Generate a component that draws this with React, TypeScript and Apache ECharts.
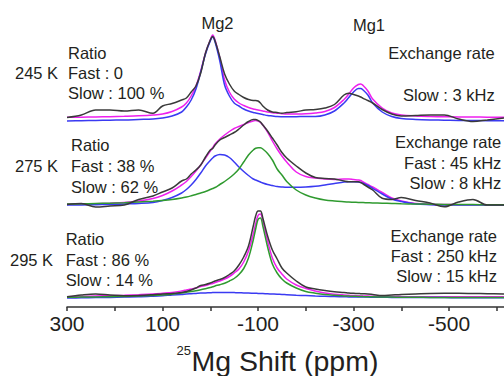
import React, { useEffect, useRef } from "react";
import * as echarts from "echarts";

// 25Mg shift grid (ppm)
const SHIFT_PPM = [
  300, 270, 240, 210, 180, 150, 120, 100, 80, 60,
  50, 40, 30, 20, 10, 0, -5, -10, -20, -30,
  -40, -50, -60, -70, -80, -90, -95, -100, -105, -110,
  -120, -130, -140, -150, -160, -180, -200, -220, -240, -260,
  -280, -290, -300, -310, -315, -320, -330, -340, -360, -380,
  -400, -430, -460, -490, -520, -550, -580, -615,
];

const TICK_VALUES = [300, 200, 100, 0, -100, -200, -300, -400, -500, -600];
const TICK_LABELS = [300, 100, -100, -300, -500];

// vertical offsets of the stacked spectra
const OFFSET_245 = 186;
const OFFSET_275 = 102;
const OFFSET_295 = 9;

// ---- 245 K ----
const EXP_245 = [
  3.5, 6, 11, 11, 10, 11, 7.7, 15, 17.5, 21,
  23, 29, 35, 48, 68, 81, 84.5, 80, 64, 47,
  37, 30, 26.5, 23.5, 21.5, 20.5, 20.5, 20, 18, 15,
  11, 9, 8.5, 7.7, 8.5, 9.3, 11, 11.5, 13, 16.5,
  26, 27.7, 26.5, 25, 24, 22.7, 20.5, 18, 11.5, 7,
  5, 5.5, 6, 6, 2, -0.5, 1, 3,
];
const FIT_245 = [
  3.7, 3.8, 4, 4.3, 4.7, 5.2, 6, 7, 9.5, 14,
  18, 25, 35, 50, 68, 81, 86, 81, 63, 41,
  29, 22, 18, 15.5, 13.5, 12, 11.5, 11, 10.5, 10,
  9, 8.3, 7.8, 7.3, 7, 7, 7.2, 8, 9.5, 13.5,
  21.5, 27, 33, 36.5, 37, 35.5, 30, 22, 13, 8,
  6, 5, 4.5, 4.2, 4, 4, 3.8, 3.8,
];
const SLOW_245 = [
  0, 0.3, 0.5, 0.8, 1, 1.5, 2, 3, 5, 9,
  14, 21, 32, 49, 67, 80, 84, 79, 60, 36,
  25, 18, 15, 12, 10, 8.5, 8, 7.5, 7, 6.5,
  5.5, 5, 4.5, 4.3, 4.2, 4.3, 4.5, 4.5, 6, 10,
  18, 23.5, 29, 32.5, 32.5, 31, 26, 18, 9, 4.5,
  2.5, 1.5, 1, 0.8, 0.5, 0.5, 0.3, 0.3,
];

// ---- 275 K ----
const EXP_275 = [
  0.5, 1.5, -2, -1, 0, 5.5, 9, 13, 17, 24,
  26, 31, 35, 40, 48, 55, 56.5, 60, 65, 67.5,
  70, 72.5, 76, 80, 83.5, 85.5, 85.5, 84.5, 83, 80,
  74, 67, 60, 52.5, 47, 39, 32, 27.5, 26.5, 26,
  24, 23.3, 23.3, 23.3, 22.5, 21, 18, 15, 6.7, 5.5,
  7.5, 4.5, 2, -1.7, 3, 5.5, 0, 0,
];
const FIT_275 = [
  0.7, 1, 1.3, 1.8, 2.5, 4, 6.5, 9.5, 14, 20,
  23.5, 28.5, 34, 40, 47, 54, 57.5, 61, 66, 70,
  73.5, 76.5, 78.5, 80.5, 82.5, 84, 84.5, 84, 82.5, 80,
  73, 64, 56, 49, 43, 33, 28.5, 27, 26, 25.5,
  26, 26, 25.5, 25, 24.5, 23, 20.5, 18, 12.5, 7,
  4, 1.5, 0.8, 0.5, 0.3, 0.2, 0.1, 0.1,
];
const SLOW_275 = [
  0, 0, 0.3, 0.5, 1, 1.5, 2.5, 4.5, 7.5, 12,
  15.5, 20, 25.5, 32, 39, 44.5, 47, 49, 50.5, 50,
  47.5, 43, 38, 33.5, 29.5, 26, 25, 24, 23, 22,
  20.5, 19.5, 18.5, 18, 17.7, 17.7, 18, 18.7, 20, 21.5,
  23, 23.3, 23.3, 23, 22.5, 21.7, 19.5, 16.7, 11, 6,
  3.5, 1, 0.3, 0, 0, 0, 0, 0,
];
const FAST_275 = [
  1, 1.2, 1.5, 1.8, 2.3, 3, 3.8, 4.5, 5.5, 7,
  8, 9.2, 10.5, 12, 13.5, 15.5, 16.5, 17.5, 20.5, 23.5,
  27, 31, 36, 43, 50, 55, 56.7, 57.3, 57.2, 56,
  51.5, 45, 36, 30, 23.5, 15, 10, 7, 5, 4,
  3.3, 3, 2.8, 2.6, 2.5, 2.4, 2.2, 2, 1.8, 1.5,
  1.2, 1, 0.8, 0.6, 0.5, 0.4, 0.3, 0.3,
];

// ---- 295 K ----
const EXP_295 = [
  1.3, 3, 4, 3, 2.2, 2.5, 3.3, 4, 4.5, 5.5,
  6.5, 8, 10, 12.5, 13.5, 15, 16, 17, 18.5, 20.5,
  23.5, 27, 33, 41, 52, 72, 82, 87, 87, 80,
  62, 48, 39, 30, 25, 17, 11, 9, 7.5, 6.3,
  5.5, 5, 4.7, 4.5, 4.3, 4.2, 4, 3.5, 2.5, 3,
  3.5, 4, 4.5, 4.7, 4.7, 4.5, 4.3, 4,
];
const FIT_295 = [
  1.3, 1.6, 2, 2.3, 2.7, 3.3, 4, 4.7, 5.5, 7,
  8, 9, 10, 11.5, 12.5, 14, 14.5, 15.5, 17, 19,
  21.5, 25, 29, 36, 47, 64, 74, 82.5, 84, 77,
  57, 40, 30, 24, 19, 13, 9.5, 7, 5, 3.8,
  3, 2.7, 2.4, 2.2, 2.1, 2, 1.9, 1.8, 1.6, 1.5,
  1.4, 1.3, 1.3, 1.3, 1.3, 1.3, 1.3, 1.3,
];
const SLOW_295 = [
  0, 0.2, 0.4, 0.6, 0.9, 1.2, 1.8, 2.3, 3, 3.6,
  4, 4.3, 4.6, 4.9, 5.1, 5.3, 5.4, 5.4, 5.5, 5.5,
  5.5, 5.4, 5.3, 5.1, 5, 4.8, 4.7, 4.6, 4.5, 4.4,
  4.2, 4, 3.8, 3.5, 3.3, 2.8, 2.4, 2, 1.7, 1.4,
  1.2, 1.1, 1, 1, 1, 0.9, 0.9, 0.8, 0.7, 0.6,
  0.5, 0.5, 0.4, 0.4, 0.3, 0.3, 0.3, 0.3,
];
const FAST_295 = [
  0.7, 0.9, 1.1, 1.3, 1.6, 2, 2.5, 3, 3.8, 5,
  5.7, 6.5, 7.3, 8.2, 9.3, 10.5, 11.2, 12, 13.3, 14.8,
  17, 19.5, 23.5, 29.5, 40, 58, 69, 78.5, 80, 72,
  51, 34, 25, 19, 15, 10, 6.5, 4.8, 3.5, 2.7,
  2.1, 1.9, 1.7, 1.6, 1.5, 1.4, 1.3, 1.2, 1, 0.9,
  0.8, 0.7, 0.6, 0.5, 0.5, 0.4, 0.4, 0.4,
];

const FONT = '"Liberation Sans", Arial, Helvetica, sans-serif';
const C_EXP = "#3a3a3a";
const C_FIT = "#ee1fee";
const C_SLOW = "#3a3af2";
const C_FAST = "#2f9a2f";
const C_TEXT = "#231f20";

function toData(h: number[], off: number) {
  return SHIFT_PPM.map((x, i) => [x, off + h[i]]);
}

function line(name: string, h: number[], off: number, color: string, z: number) {
  return {
    name,
    type: "line",
    data: toData(h, off),
    smooth: 0.35,
    showSymbol: false,
    symbol: "none",
    silent: true,
    z,
    lineStyle: { color, width: 1.5 },
  };
}

function txt(text: string, x: number, y: number, align: string, size = 16.5) {
  return {
    type: "text",
    x,
    y,
    silent: true,
    style: {
      text,
      fill: C_TEXT,
      fontSize: size,
      fontFamily: FONT,
      align,
      verticalAlign: "middle",
    },
  };
}

export default function App() {
  const ref = useRef<HTMLDivElement>(null);
  useEffect(() => {
    if (!ref.current) return;
    const chart = echarts.init(ref.current, null, { renderer: "svg" });
    chart.setOption({
      animation: false,
      backgroundColor: "#ffffff",
      grid: { left: 67, right: 0, top: 0, bottom: 69, containLabel: false },
      xAxis: {
        type: "value",
        inverse: true,
        min: -615,
        max: 300,
        axisLine: { show: true, onZero: false, lineStyle: { color: "#333", width: 1.5 } },
        axisTick: {
          show: true,
          inside: false,
          length: 4,
          customValues: TICK_VALUES,
          lineStyle: { color: "#333", width: 1.5 },
        },
        axisLabel: {
          customValues: TICK_LABELS,
          fontSize: 21,
          color: C_TEXT,
          margin: 6,
          fontFamily: FONT,
        },
        splitLine: { show: false },
      },
      yAxis: { type: "value", min: 0, max: 307, show: false },
      series: [
        line("Fit 245", FIT_245, OFFSET_245, C_FIT, 2),
        line("Slow 245", SLOW_245, OFFSET_245, C_SLOW, 3),
        line("Exp 245", EXP_245, OFFSET_245, C_EXP, 4),
        line("Fit 275", FIT_275, OFFSET_275, C_FIT, 2),
        line("Slow 275", SLOW_275, OFFSET_275, C_SLOW, 3),
        line("Fast 275", FAST_275, OFFSET_275, C_FAST, 3),
        line("Exp 275", EXP_275, OFFSET_275, C_EXP, 4),
        line("Fit 295", FIT_295, OFFSET_295, C_FIT, 2),
        line("Slow 295", SLOW_295, OFFSET_295, C_SLOW, 3),
        line("Fast 295", FAST_295, OFFSET_295, C_FAST, 3),
        line("Exp 295", EXP_295, OFFSET_295, C_EXP, 4),
      ],
      graphic: [
        txt("Mg2", 217.5, 23, "center"),
        txt("Mg1", 369, 25, "center"),
        txt("245 K", 15, 73.3, "left"),
        txt("Ratio", 68, 52.5, "left"),
        txt("Fast : 0", 68, 73.3, "left"),
        txt("Slow : 100 %", 68, 93.3, "left"),
        txt("Exchange rate", 494.7, 53.3, "right"),
        txt("Slow : 3 kHz", 494.7, 95, "right"),
        txt("275 K", 15, 165.5, "left"),
        txt("Ratio", 71, 144.5, "left"),
        txt("Fast : 38 %", 71, 165.8, "left"),
        txt("Slow : 62 %", 71, 186.7, "left"),
        txt("Exchange rate", 501.3, 142, "right"),
        txt("Fast : 45 kHz", 501.3, 162.5, "right"),
        txt("Slow : 8 kHz", 501.3, 182.5, "right"),
        txt("295 K", 10, 260, "left"),
        txt("Ratio", 65.7, 238.8, "left"),
        txt("Fast : 86 %", 65.7, 259.7, "left"),
        txt("Slow : 14 %", 65.7, 279.7, "left"),
        txt("Exchange rate", 497, 235.5, "right"),
        txt("Fast : 250 kHz", 497, 255.8, "right"),
        txt("Slow : 15 kHz", 497, 276, "right"),
        txt("25", 191, 350, "right", 13),
        txt("Mg Shift (ppm)", 191.5, 360.5, "left", 28.5),
      ],
    });
    return () => chart.dispose();
  }, []);
  return (
    <div
      ref={ref}
      style={{ position: "fixed", left: 0, top: 0, width: 504, height: 376 }}
    />
  );
}
